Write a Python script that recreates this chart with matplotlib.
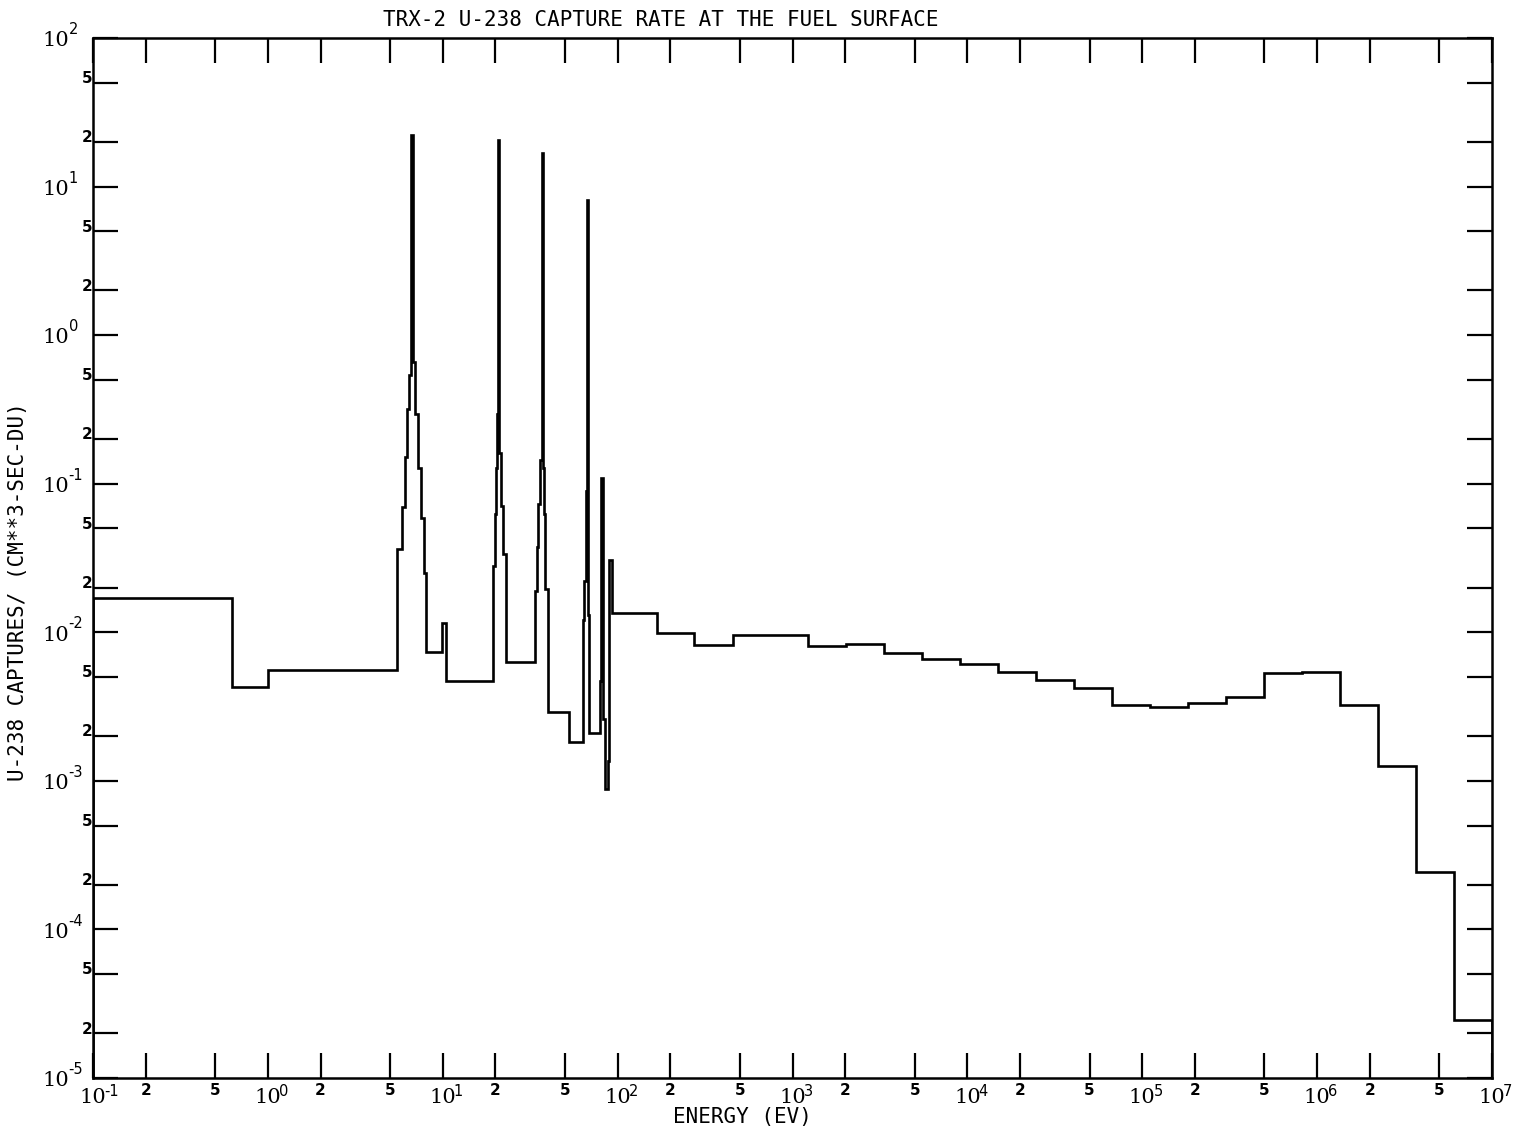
import matplotlib
matplotlib.use('Agg')
import matplotlib.pyplot as plt

# group boundaries (eV) and U-238 capture rate per group
edges = [0.1, 0.625, 1.0, 5.45, 5.82, 6.08, 6.22, 6.41, 6.60, 6.75, 6.93, 7.21,
         7.50, 7.81, 8.02, 9.86, 10.5, 19.36, 19.89, 20.28, 20.55, 20.80, 21.10,
         21.50, 22.0, 22.98, 33.67, 34.43, 35.16, 35.95, 36.77, 37.26, 37.90,
         38.40, 40.11, 52.67, 63.1, 64.4, 65.6, 66.5, 67.8, 68.8, 79.3, 80.8,
         82.9, 84.6, 88.0, 89.8, 92.7, 167.0, 275.0, 454.0, 1230.0, 2030.0,
         3350.0, 5530.0, 9120.0, 15000.0, 24800.0, 40900.0, 67400.0, 111000.0,
         183000.0, 302000.0, 498000.0, 821000.0, 1353000.0, 2231000.0,
         3679000.0, 6065000.0, 1.0e7]
rates = [0.0170, 0.00425, 0.00557, 0.0364, 0.0697, 0.151, 0.318, 0.539, 22.2,
         0.659, 0.294, 0.128, 0.0588, 0.0251, 0.00736, 0.01155, 0.0047,
         0.0279, 0.0625, 0.128, 0.294, 20.6, 0.161, 0.0708, 0.0336, 0.0063,
         0.0190, 0.0375, 0.0730, 0.1445, 16.8, 0.128, 0.0625, 0.0196, 0.0029,
         0.00182, 0.0121, 0.0221, 0.09, 8.13, 0.013, 0.0021, 0.0047, 0.109,
         0.0026, 0.00088, 0.00136, 0.0307, 0.0135, 0.0099, 0.0082, 0.0096,
         0.0081, 0.00834, 0.00726, 0.0066, 0.00612, 0.0054, 0.00478, 0.00422,
         0.00324, 0.00314, 0.00334, 0.00367, 0.00532, 0.0054, 0.00324,
         0.00126, 0.000244, 2.45e-5]

x_decades = list(range(-1, 8))
y_decades = list(range(-5, 3))

fig = plt.figure(figsize=(15.17, 11.32), dpi=100)
ax = fig.add_axes([93 / 1517, 54 / 1132, 1399 / 1517, 1040 / 1132])

ax.stairs(rates, edges, color='black', linewidth=1.9)

ax.set_xscale('log')
ax.set_yscale('log')
ax.set_xlim(1e-1, 1e7)
ax.set_ylim(1e-5, 1e2)

xt = [m * 10.0 ** e for e in x_decades[:-1] for m in (1, 2, 5)] + [1e7]
yt = [m * 10.0 ** e for e in y_decades[:-1] for m in (1, 2, 5)] + [1e2]
ax.set_xticks(xt)
ax.set_yticks(yt)
ax.set_xticks([], minor=True)
ax.set_yticks([], minor=True)
ax.tick_params(which='both', direction='in', length=18, width=1.6,
               top=True, right=True, labelbottom=False, labelleft=False)
for s in ax.spines.values():
    s.set_linewidth(1.8)

# x tick labels: 10^n under decades, 2 and 5 in between
for e in x_decades:
    ax.annotate('10', xy=(10.0 ** e, 0), xycoords=('data', 'axes fraction'),
                xytext=(0, -7), textcoords='offset points',
                ha='center', va='top', fontsize=15, family='DejaVu Serif')
    ax.annotate(str(e), xy=(10.0 ** e, 0), xycoords=('data', 'axes fraction'),
                xytext=(8, -4), textcoords='offset points',
                ha='left', va='top', fontsize=10.5)
    if e < 7:
        for m in (2, 5):
            ax.annotate(str(m), xy=(m * 10.0 ** e, 0),
                        xycoords=('data', 'axes fraction'),
                        xytext=(0, -3.5), textcoords='offset points',
                        ha='center', va='top', fontsize=11, fontweight='bold')

# y tick labels
for e in y_decades:
    ax.annotate('10', xy=(0, 10.0 ** e), xycoords=('axes fraction', 'data'),
                xytext=(-17, -2), textcoords='offset points',
                ha='right', va='center', fontsize=15, family='DejaVu Serif')
    ax.annotate(str(e), xy=(0, 10.0 ** e), xycoords=('axes fraction', 'data'),
                xytext=(-17.5, 6), textcoords='offset points',
                ha='left', va='center', fontsize=10.5)
    if e < 2:
        for m in (2, 5):
            ax.annotate(str(m), xy=(0, m * 10.0 ** e),
                        xycoords=('axes fraction', 'data'),
                        xytext=(-0.5, 3), textcoords='offset points',
                        ha='right', va='center', fontsize=11, fontweight='bold')

mono = 'DejaVu Sans Mono'
fig.text(383 / 1517, 1 - 20 / 1132, 'TRX-2 U-238 CAPTURE RATE AT THE FUEL SURFACE',
         ha='left', va='center', fontsize=15, family=mono)
fig.text(742 / 1517, 1 - 1117 / 1132, 'ENERGY (EV)',
         ha='center', va='center', fontsize=15, family=mono)
fig.text(18 / 1517, 1 - 592 / 1132, 'U-238 CAPTURES/ (CM**3-SEC-DU)',
         ha='center', va='center', rotation=90, fontsize=15, family=mono)

fig.savefig('out.png', dpi=100)
